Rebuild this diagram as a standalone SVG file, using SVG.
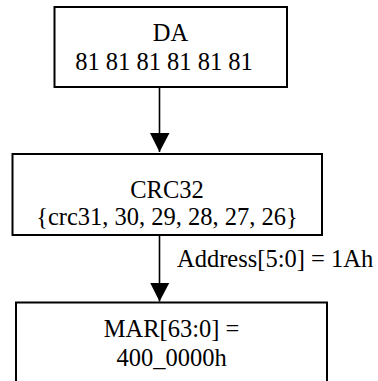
<svg xmlns="http://www.w3.org/2000/svg" width="378" height="381" viewBox="0 0 378 381">
<style>
.box{fill:#fff;stroke:#000;stroke-width:2}
.t{font-family:"Liberation Serif","Times New Roman",serif;font-size:24.5px;fill:#000;text-anchor:middle}
.lbl{font-family:"Liberation Serif","Times New Roman",serif;font-size:24.5px;fill:#000}
.edge{stroke:#000;stroke-width:1.6;fill:none}
</style>
<defs>
<marker id="ah" markerUnits="userSpaceOnUse" markerWidth="20" markerHeight="21" refX="19" refY="10" orient="auto">
<path d="M0,0 L19,10 L0,19.5 Z" fill="#000"/>
</marker>
</defs>
<rect width="378" height="381" fill="#fff"/>
<g id="connectors">
<line class="edge" x1="159.5" y1="87" x2="159.5" y2="152" marker-end="url(#ah)"/>
<line class="edge" x1="159.5" y1="235" x2="159.5" y2="301.5" marker-end="url(#ah)"/>
<text class="lbl" x="177" y="267">Address[5:0] = 1Ah</text>
</g>
<g id="node-da">
<rect class="box" x="54.5" y="7" width="232.5" height="80"/>
<text class="t" x="170.5" y="41">DA</text>
<text class="t" x="164" y="70">81 81 81 81 81 81</text>
</g>
<g id="node-crc32">
<rect class="box" x="12.5" y="154" width="309.5" height="81"/>
<text class="t" x="167" y="198">CRC32</text>
<text class="t" x="167" y="225">{crc31, 30, 29, 28, 27, 26}</text>
</g>
<g id="node-mar">
<rect class="box" x="16" y="302.5" width="311" height="100"/>
<text class="t" x="171.5" y="337">MAR[63:0] =</text>
<text class="t" x="171.5" y="366">400_0000h</text>
</g>
</svg>
